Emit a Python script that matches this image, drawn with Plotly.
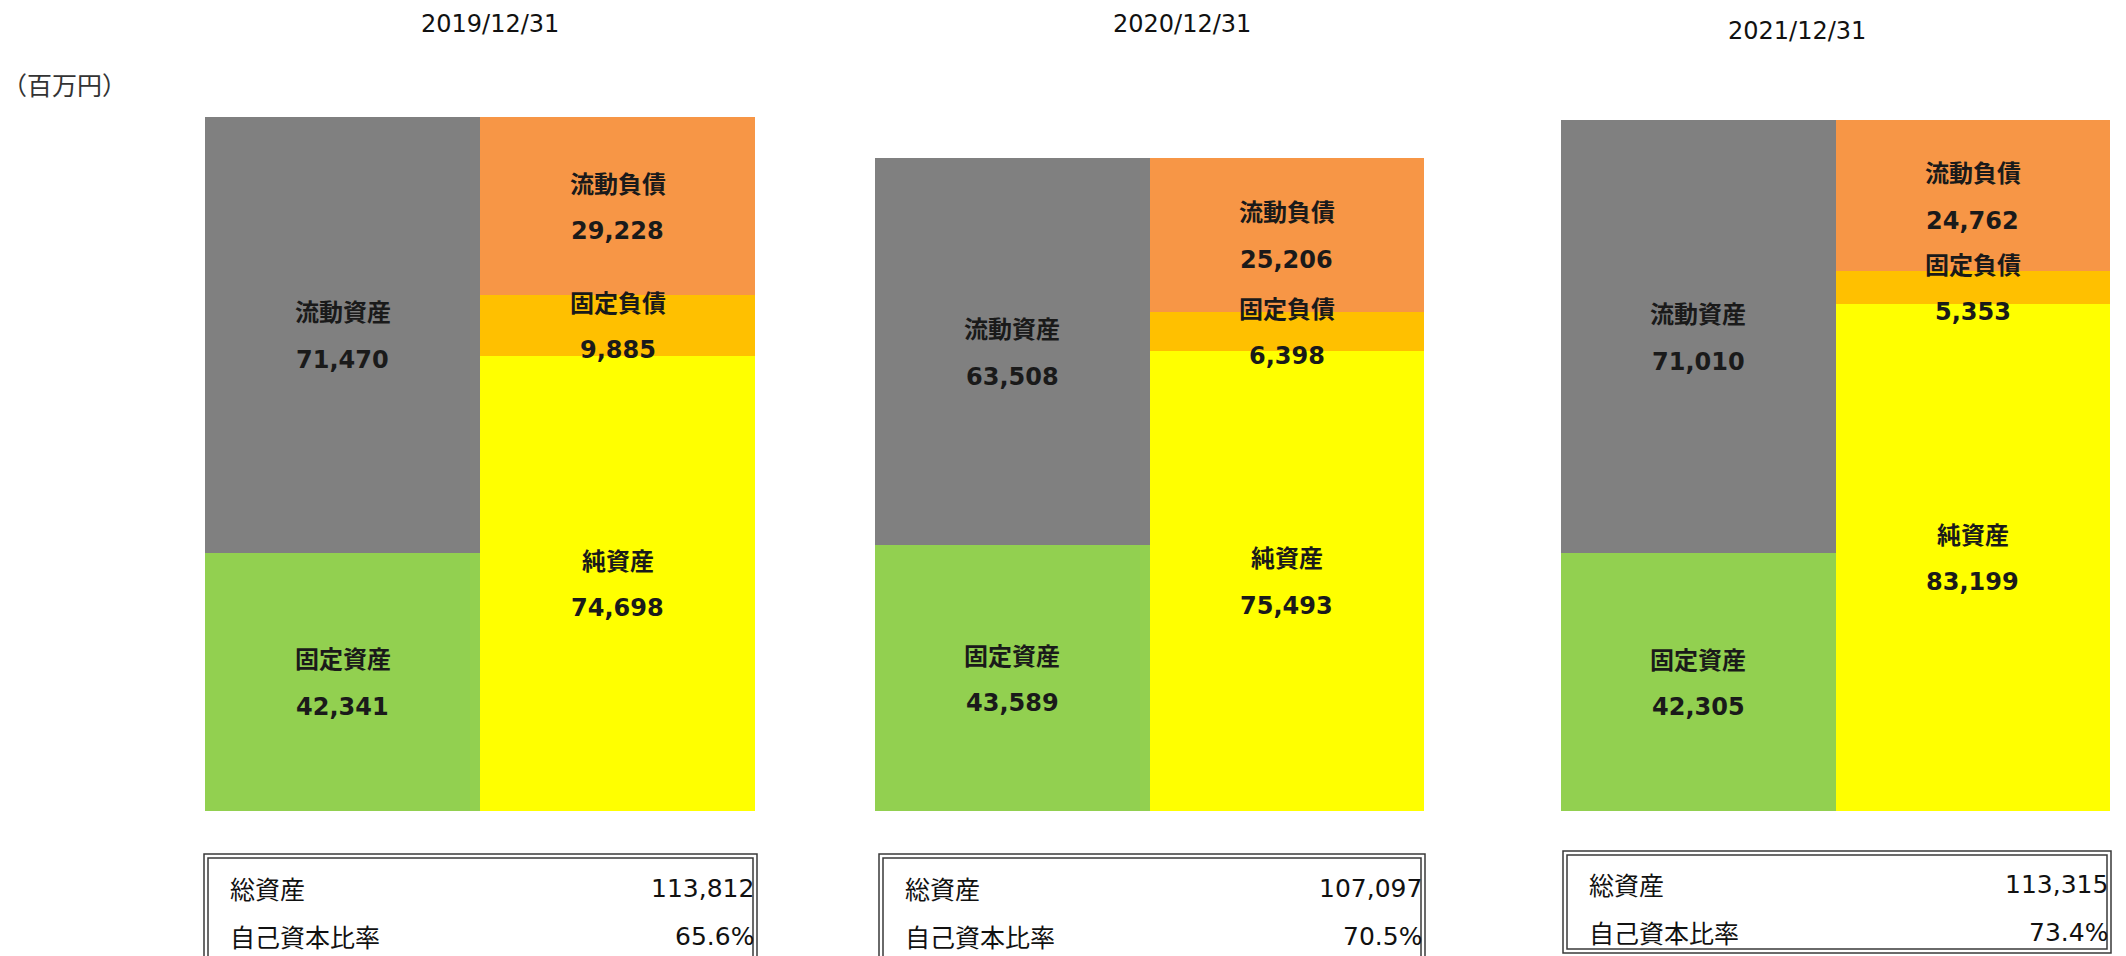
import plotly.graph_objects as go

# =============================================================================
# データ (百万円)
# =============================================================================
DATES = ["2019/12/31", "2020/12/31", "2021/12/31"]
CATS = ["資産", "負債・純資産"]

current_assets = [71470, 63508, 71010]      # 流動資産
fixed_assets = [42341, 43589, 42305]        # 固定資産
current_liab = [29228, 25206, 24762]        # 流動負債
fixed_liab = [9885, 6398, 5353]             # 固定負債
net_assets = [74698, 75493, 83199]          # 純資産

total_assets = ["113,812", "107,097", "113,315"]
equity_ratio = ["65.6%", "70.5%", "73.4%"]

COLORS = {
    "流動資産": "#808080",
    "固定資産": "#92D050",
    "流動負債": "#F79646",
    "固定負債": "#FFC000",
    "純資産": "#FFFF00",
}

# =============================================================================
# レイアウト (px, 画面左上基準)
# =============================================================================
W, H = 2126, 956
PANELS_PX = [(205, 755), (875, 1424), (1561, 2110)]
BASE_Y = 811                      # バーの下端
PX_PER_UNIT = 694 / 113812
Y_MAX = BASE_Y / PX_PER_UNIT
TITLE_POS = [(490, 24), (1182, 24), (1797, 31)]
TABLE_X = [(204, 757), (879, 1425), (1563, 2111)]
TABLE_TOP = [854, 854, 851]
TABLE_BOTTOM = [990, 990, 953]
TABLE_ROWS = [(888, 936), (888, 936), (884, 932)]


def px_x(x):
    return x / W


def px_y(y):
    return 1 - y / H


LABEL_FONT = dict(family="Noto Sans CJK JP", size=24, color="#1a1a1a")
NUM_FONT = dict(family="DejaVu Sans", size=24, color="#1a1a1a")
TABLE_JP_FONT = dict(family="Noto Sans CJK JP", size=25, color="#111111")
TABLE_NUM_FONT = dict(family="DejaVu Sans", size=25, color="#111111")

fig = go.Figure()
annotations = []
shapes = []

for i, date in enumerate(DATES):
    xa = "x" if i == 0 else f"x{i + 1}"
    # 左: 資産  右: 負債・純資産 (下から積み上げ)
    stacks = [
        (CATS[0], [("固定資産", fixed_assets[i]), ("流動資産", current_assets[i])]),
        (CATS[1], [("純資産", net_assets[i]), ("固定負債", fixed_liab[i]), ("流動負債", current_liab[i])]),
    ]
    for cat, segs in stacks:
        base = 0
        for name, val in segs:
            fig.add_trace(go.Bar(
                x=[cat], y=[val], xaxis=xa, yaxis="y",
                marker=dict(color=COLORS[name], line=dict(width=0)),
                name=name, showlegend=False, hoverinfo="skip",
            ))
            mid = base + val / 2
            annotations.append(dict(
                x=cat, y=mid, xref=xa, yref="y", text=f"<b>{name}</b>",
                showarrow=False, yshift=24, font=LABEL_FONT,
            ))
            annotations.append(dict(
                x=cat, y=mid, xref=xa, yref="y", text=f"<b>{val:,}</b>",
                showarrow=False, yshift=-25, font=NUM_FONT,
            ))
            base += val

    # 日付タイトル
    tx, ty = TITLE_POS[i]
    annotations.append(dict(
        x=px_x(tx), y=px_y(ty), xref="paper", yref="paper", text=date,
        showarrow=False, font=dict(family="DejaVu Sans", size=24, color="#111111"),
        xanchor="center", yanchor="middle",
    ))

    # 表 (二重線)
    x0, x1 = TABLE_X[i]
    t, b = TABLE_TOP[i], TABLE_BOTTOM[i]
    for off in (0, 4):
        shapes.append(dict(
            type="rect", xref="paper", yref="paper",
            x0=px_x(x0 + off), x1=px_x(x1 - off),
            y0=px_y(b - off), y1=px_y(t + off),
            line=dict(color="#3a3a3a", width=1.5), fillcolor="rgba(0,0,0,0)",
        ))
    r1, r2 = TABLE_ROWS[i]
    for label, value, ry in (("総資産", total_assets[i], r1), ("自己資本比率", equity_ratio[i], r2)):
        annotations.append(dict(
            x=px_x(x0 + 24), y=px_y(ry), xref="paper", yref="paper", text=label,
            showarrow=False, xanchor="left", yanchor="middle", font=TABLE_JP_FONT,
        ))
        annotations.append(dict(
            x=px_x(x1 - 1), y=px_y(ry), xref="paper", yref="paper", text=value,
            showarrow=False, xanchor="right", yanchor="middle", font=TABLE_NUM_FONT,
        ))

# 単位
annotations.append(dict(
    x=px_x(0), y=px_y(84), xref="paper", yref="paper", text="（百万円）",
    showarrow=False, xanchor="left", yanchor="middle",
    font=dict(family="Noto Sans CJK JP", size=25, color="#333333"),
))

axis_common = dict(visible=False, fixedrange=True)
layout_axes = {}
for i, (x0, x1) in enumerate(PANELS_PX):
    key = "xaxis" if i == 0 else f"xaxis{i + 1}"
    layout_axes[key] = dict(domain=[px_x(x0), px_x(x1)], anchor="y",
                            type="category", categoryorder="array",
                            categoryarray=CATS, range=[-0.5, 1.5], **axis_common)

fig.update_layout(
    width=W, height=H,
    margin=dict(l=0, r=0, t=0, b=0),
    paper_bgcolor="white", plot_bgcolor="white",
    barmode="stack", bargap=0,
    yaxis=dict(domain=[px_y(BASE_Y), 1], range=[0, Y_MAX], **axis_common),
    annotations=annotations,
    shapes=shapes,
    showlegend=False,
    **layout_axes,
)

# ページ余白をなくして図を画面左上に合わせる
fig.write_html("out.html", config={"displayModeBar": False},
               post_script="document.body.style.margin='0';")
